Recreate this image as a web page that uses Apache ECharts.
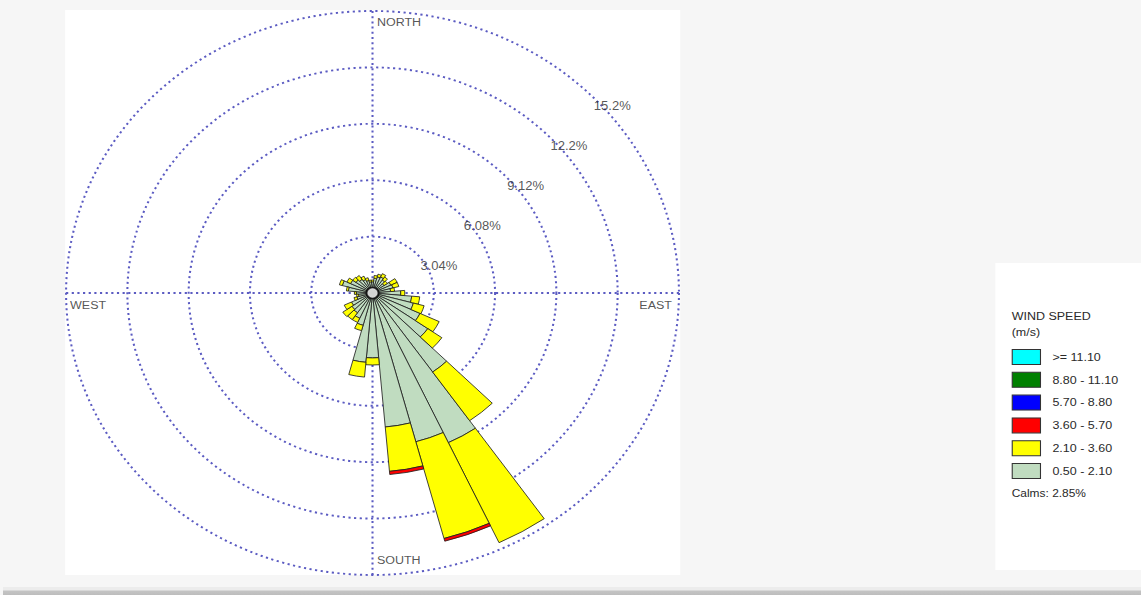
<!DOCTYPE html>
<html>
<head>
<meta charset="utf-8">
<title>Wind Rose</title>
<script src="https://cdn.jsdelivr.net/npm/echarts@6/dist/echarts.min.js"></script>
<style>
  html, body { margin: 0; padding: 0; width: 1141px; height: 595px; overflow: hidden; background: #f6f6f6; }
  /* the plot is laid out on a 1050px-wide stage and widened to the window */
  #stage { position: absolute; left: 0; top: 0; width: 1050px; height: 595px; transform-origin: 0 0; transform: scaleX(1.08667); }
  .panel { position: absolute; background: #ffffff; }
  #plotPanel { left: 59.8px; top: 10px; width: 566px; height: 565px; }
  #legendPanel { left: 915.6px; top: 263px; width: 134.4px; height: 307px; }
  #chart { position: absolute; left: 0; top: 0; width: 1050px; height: 595px; }
  #statusBar { position: absolute; left: 3px; top: 587px; width: 1138px; height: 8px;
               background: linear-gradient(#ececec 0, #ececec 3px, #c4c4c4 4px, #bdbdbd 8px); }
</style>
</head>
<body>
<div id="stage">
  <div class="panel" id="plotPanel"></div>
  <div class="panel" id="legendPanel"></div>
  <div id="chart"></div>
</div>
<div id="statusBar"></div>
<script>
// 36 direction sectors, 10 degrees each, clockwise from north
const directions = ['0','10','20','30','40','50','60','70','80','90','100','110',
                    '120','130','140','150','160','170','180','190','200','210','220','230',
                    '240','250','260','270','280','290','300','310','320','330','340','350'];

// frequency (%) per direction for each wind-speed class (m/s)
const freq050_210 = [0.60,0.80,0.90,0.95,0.85,0.70,1.00,1.05,0.90,1.40,1.95,2.10,
                     2.60,3.35,5.20,8.90,8.30,7.25,3.50,3.75,1.80,1.50,1.30,1.25,
                     1.15,0.80,0.70,0.80,1.20,1.55,1.20,1.00,0.90,0.80,0.70,0.60];
const freq210_360 = [0.10,0.15,0.15,0.20,0.20,0.20,0.35,0.30,0.20,0.20,0.40,0.55,
                     1.05,0.85,3.20,5.95,5.40,2.40,0.38,0.80,0.30,0.25,0.45,0.55,
                     0.40,0.15,0.10,0.10,0.10,0.15,0.20,0.20,0.25,0.20,0.15,0.10];
const freq360_570 = [0,0,0,0,0,0,0,0,0,0,0,0,
                     0,0,0,0,0.15,0.17,0,0,0,0,0,0,
                     0,0,0,0,0,0,0,0,0,0,0,0];
const freq570_880  = new Array(36).fill(0);
const freq880_1110 = new Array(36).fill(0);
const freqGE1110   = new Array(36).fill(0);

const speedClasses = ['0.50 - 2.10', '2.10 - 3.60', '3.60 - 5.70', '5.70 - 8.80', '8.80 - 11.10', '>= 11.10'];
const calmsPct = 2.85;

// rings of the radial scale and their labels
const ringMax = 15.2;
const ringStep = 3.04;
const ringValues = [3.04, 6.08, 9.12, 12.16, 15.2];
const ringLabels = ['3.04%', '6.08%', '9.12%', '12.2%', '15.2%'];
const compassNames = ['NORTH', 'EAST', 'SOUTH', 'WEST'];
const compassAngles = [0, 90, 180, 270];

// ---- styling ----
const classColors = ['#c0dcc0', '#ffff00', '#ff0000', '#0000ff', '#008000', '#00ffff'];
const classFreqs = [freq050_210, freq210_360, freq360_570, freq570_880, freq880_1110, freqGE1110];
const textColor = '#2a2a2a';
const gridLine = { color: '#5b5bc2', width: 1.9, type: [2, 3.2] };
const center = [342.8, 293];
const radius = 282;

const hidden = { show: false };

const barSeries = speedClasses.map((name, i) => ({
  type: 'bar',
  name: name,
  coordinateSystem: 'polar',
  polarIndex: 0,
  stack: 'rose',
  barCategoryGap: '0%',
  silent: true,
  data: classFreqs[i].map(v => (v > 0 ? v : '-')),
  itemStyle: { color: classColors[i], borderColor: '#1e1e1e', borderWidth: 0.8 }
}));

// compass words sit just inside the outer ring, beside the cross lines
const compassLabelStyle = [
  { position: [4.1, 11], align: 'left',  verticalAlign: 'middle' },
  { position: [-6.4, 12], align: 'right', verticalAlign: 'middle' },
  { position: [4.1, -15], align: 'left',  verticalAlign: 'middle' },
  { position: [3.7, 12], align: 'left',  verticalAlign: 'middle' }
];

const compassSeries = {
  type: 'scatter',
  coordinateSystem: 'polar',
  polarIndex: 1,
  silent: true,
  symbolSize: 0.1,
  itemStyle: { color: 'transparent' },
  z: 5,
  data: compassNames.map((n, i) => ({
    value: [ringMax, compassAngles[i]],
    label: Object.assign({
      show: true, formatter: n, color: textColor,
      fontFamily: 'Liberation Sans, Arial, sans-serif', fontSize: 11.5
    }, compassLabelStyle[i])
  }))
};

const ringLabelSeries = {
  type: 'scatter',
  coordinateSystem: 'polar',
  polarIndex: 1,
  silent: true,
  symbolSize: 0.1,
  itemStyle: { color: 'transparent' },
  z: 5,
  data: ringValues.map((r, i) => ({
    value: [r, 45],
    label: {
      show: true, formatter: ringLabels[i], color: textColor,
      fontFamily: 'Liberation Sans, Arial, sans-serif', fontSize: 12,
      position: [4.3, 13], align: 'left', verticalAlign: 'middle'
    }
  }))
};

const calmSeries = {
  type: 'scatter',
  coordinateSystem: 'polar',
  polarIndex: 1,
  silent: true,
  z: 6,
  symbol: 'circle',
  symbolSize: 11,
  itemStyle: { color: '#ffffff', borderColor: '#000000', borderWidth: 1.6 },
  data: [[0, 0]]
};

const chart = echarts.init(document.getElementById('chart'), null, { renderer: 'svg' });

chart.setOption({
  animation: false,
  backgroundColor: 'transparent',
  title: [
    {
      text: 'WIND SPEED\n(m/s)',
      left: 931, top: 308, padding: 0,
      textStyle: { fontSize: 11.5, fontWeight: 'normal', color: textColor, lineHeight: 16,
                   fontFamily: 'Liberation Sans, Arial, sans-serif' }
    },
    {
      text: 'Calms: ' + calmsPct.toFixed(2) + '%',
      left: 931, top: 486, padding: 0,
      textStyle: { fontSize: 11, fontWeight: 'normal', color: textColor, lineHeight: 14,
                   fontFamily: 'Liberation Sans, Arial, sans-serif' }
    }
  ],
  legend: {
    orient: 'vertical',
    left: 931, top: 349, padding: 0,
    itemWidth: 26, itemHeight: 15, itemGap: 6.8,
    icon: 'rect',
    selectedMode: false,
    data: speedClasses.slice().reverse(),
    itemStyle: { borderColor: '#333333', borderWidth: 1 },
    textStyle: { fontSize: 11.5, color: textColor, padding: [0, 0, 0, 6],
                 fontFamily: 'Liberation Sans, Arial, sans-serif' }
  },
  polar: [
    { center: center, radius: radius },
    { center: center, radius: radius }
  ],
  angleAxis: [
    {
      polarIndex: 0, type: 'category', data: directions,
      startAngle: 95, clockwise: true, boundaryGap: true,
      axisLine: hidden, axisTick: hidden, axisLabel: hidden, splitLine: hidden
    },
    {
      polarIndex: 1, type: 'value', min: 0, max: 360, interval: 90,
      startAngle: 90, clockwise: true,
      axisLine: hidden, axisTick: hidden, axisLabel: hidden,
      splitLine: { show: true, lineStyle: gridLine }
    }
  ],
  radiusAxis: [
    {
      polarIndex: 0, type: 'value', min: 0, max: ringMax,
      axisLine: hidden, axisTick: hidden, axisLabel: hidden, splitLine: hidden
    },
    {
      polarIndex: 1, type: 'value', min: 0, max: ringMax, interval: ringStep,
      axisLine: hidden, axisTick: hidden, axisLabel: hidden,
      splitLine: { show: true, lineStyle: gridLine }
    }
  ],
  series: barSeries.concat([ringLabelSeries, compassSeries, calmSeries])
});
</script>
</body>
</html>
